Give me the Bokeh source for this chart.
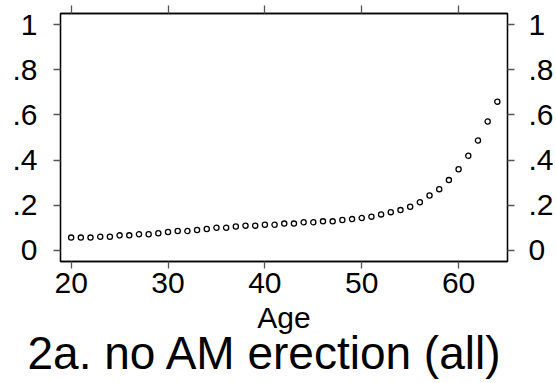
from bokeh.plotting import figure
from bokeh.models import LinearAxis, FixedTicker, Range1d
from bokeh.embed import file_html
from bokeh.resources import INLINE

# data
age = list(range(20, 65))
prob = [0.056, 0.056, 0.056, 0.060, 0.060, 0.066, 0.066, 0.071, 0.071, 0.075,
        0.081, 0.085, 0.085, 0.090, 0.094, 0.100, 0.100, 0.105, 0.109, 0.109,
        0.113, 0.113, 0.118, 0.118, 0.124, 0.124, 0.128, 0.128, 0.134, 0.138,
        0.143, 0.149, 0.159, 0.169, 0.178, 0.193, 0.213, 0.243, 0.271, 0.311,
        0.359, 0.419, 0.487, 0.571, 0.659]
xticks = [20, 30, 40, 50, 60]
yticks = [0, 0.2, 0.4, 0.6, 0.8, 1]
ylabels = ["0", ".2", ".4", ".6", ".8", "1"]
title_text = "2a. no AM erection (all)"
xlabel = "Age"

FONT = "Liberation Sans"

p = figure(width=556, height=383, output_backend="svg", toolbar_location=None,
           x_range=Range1d(18.9, 65.05), y_range=Range1d(-0.05, 1.05),
           y_axis_location=None, x_axis_location=None,
           min_border_left=60, min_border_right=47, min_border_top=13,
           min_border_bottom=122, title_location="below")
p.xgrid.visible = False
p.ygrid.visible = False
p.outline_line_color = "black"
p.outline_line_width = 1.3
p.background_fill_color = "white"
p.border_fill_color = "white"

p.scatter(age, prob, marker="circle", size=5.2, fill_color="white",
          line_color="black", line_width=1.3)

def style(ax, standoff):
    ax.axis_line_color = "black"
    ax.axis_line_width = 1.3
    ax.major_tick_line_color = "#555555"
    ax.major_tick_line_width = 1.3
    ax.major_tick_in = 0
    ax.major_tick_out = 7
    ax.minor_tick_line_color = None
    ax.major_label_text_font = FONT
    ax.major_label_text_font_size = "30px"
    ax.major_label_text_color = "black"
    ax.major_label_standoff = standoff

ylab = dict(zip(yticks, ylabels))

left = LinearAxis(ticker=FixedTicker(ticks=yticks), major_label_overrides=ylab)
style(left, 16)
p.add_layout(left, "left")

right = LinearAxis(ticker=FixedTicker(ticks=yticks), major_label_overrides=ylab)
style(right, 14)
p.add_layout(right, "right")

bottom = LinearAxis(ticker=FixedTicker(ticks=xticks), axis_label=xlabel)
style(bottom, 4)
bottom.axis_label_text_font = FONT
bottom.axis_label_text_font_size = "30px"
bottom.axis_label_text_font_style = "normal"
bottom.axis_label_text_color = "black"
bottom.axis_label_standoff = 5
p.add_layout(bottom, "below")

top = LinearAxis(ticker=FixedTicker(ticks=xticks))
style(top, 0)
top.major_tick_out = 8
top.major_label_text_font_size = "0px"
top.major_label_text_alpha = 0
p.add_layout(top, "above")

p.title.text = title_text
p.title.text_font = FONT
p.title.text_font_size = "46px"
p.title.text_font_style = "normal"
p.title.align = "left"
p.title.text_color = "black"
p.title.standoff = -24
p.title.offset = -33

open("out.html", "w").write(file_html(p, INLINE))
